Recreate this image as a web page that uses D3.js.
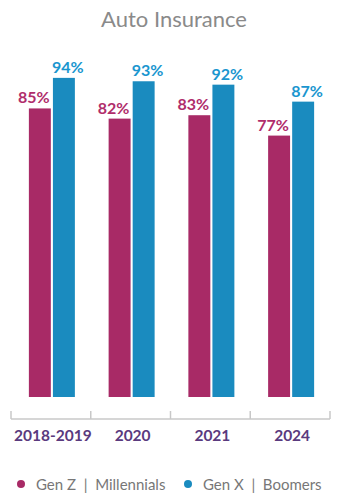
<!DOCTYPE html>
<html>
<head>
<meta charset="utf-8">
<script src="https://cdn.jsdelivr.net/npm/d3@7/dist/d3.min.js"></script>
<style>
  html, body { margin: 0; padding: 0; background: #fff; }
  svg { display: block; font-family: Lato, "Open Sans", sans-serif; }
</style>
</head>
<body>
<svg id="chart" width="343" height="504"></svg>
<script>
// Share of respondents by year and generation group
const categories = ["2018-2019", "2020", "2021", "2024"];
const seriesNames = ["Gen Z  |  Millennials", "Gen X  |  Boomers"];
const genZMillennials = [85, 82, 83, 77];
const genXBoomers = [94, 93, 92, 87];
const colors = ["#a82a66", "#1a8bbf"];
const labelColors = ["#b02d6b", "#1a96cf"];

const svg = d3.select("#chart");

const x0 = d3.scaleBand().domain(categories).range([11, 330]);
const x1 = d3.scaleBand().domain([0, 1]).range([0, 46]).paddingInner(0.087);
const y = d3.scaleLinear().domain([0, 100]).range([397, 57.5]);

const series = [genZMillennials, genXBoomers];

// Title
svg.append("text")
  .attr("x", 174).attr("y", 27)
  .attr("text-anchor", "middle")
  .attr("fill", "#8a8a8a")
  .attr("font-size", 22)
  .text("Auto Insurance");

// Bars and value labels
const groups = svg.selectAll("g.grp")
  .data(categories)
  .join("g")
  .attr("class", "grp")
  .attr("transform", d => `translate(${x0(d) + x0.bandwidth() / 2 - 23 + 1},0)`);

series.forEach((vals, si) => {
  groups.append("rect")
    .attr("x", x1(si))
    .attr("width", x1.bandwidth())
    .attr("y", (d, i) => y(vals[i]))
    .attr("height", (d, i) => y(0) - y(vals[i]))
    .attr("fill", colors[si]);

  groups.append("text")
    .attr("x", x1(si) + x1.bandwidth() / 2 + (si === 0 ? -6 : 4))
    .attr("y", (d, i) => y(vals[i]) - 5)
    .attr("text-anchor", "middle")
    .attr("font-size", 16)
    .attr("font-weight", 700)
    .attr("fill", labelColors[si])
    .text((d, i) => vals[i] + "%");
});

// Category axis: baseline with upward ticks at band edges
const axisY = 419;
const tickPositions = categories.map(c => x0(c)).concat([x0.range()[1]]);
svg.append("line")
  .attr("x1", 11).attr("x2", 330)
  .attr("y1", axisY).attr("y2", axisY)
  .attr("stroke", "#c8c8c8").attr("stroke-width", 1.5);
svg.selectAll("line.tick")
  .data(tickPositions)
  .join("line")
  .attr("class", "tick")
  .attr("x1", d => d).attr("x2", d => d)
  .attr("y1", axisY - 8).attr("y2", axisY)
  .attr("stroke", "#c8c8c8").attr("stroke-width", 1.5);

svg.selectAll("text.cat")
  .data(categories)
  .join("text")
  .attr("class", "cat")
  .attr("x", d => x0(d) + x0.bandwidth() / 2 + 2)
  .attr("y", 441)
  .attr("text-anchor", "middle")
  .attr("font-size", 15.5)
  .attr("font-weight", 700)
  .attr("fill", "#5a3a7e")
  .text(d => d);

// Legend
const legendX = [21, 188];
seriesNames.forEach((name, i) => {
  svg.append("circle")
    .attr("cx", legendX[i]).attr("cy", 484)
    .attr("r", 4)
    .attr("fill", colors[i]);
  svg.append("text")
    .attr("x", legendX[i] + 15).attr("y", 489.5)
    .attr("font-size", 15)
    .attr("fill", "#777")
    .style("white-space", "pre")
    .text(name);
});
</script>
</body>
</html>
